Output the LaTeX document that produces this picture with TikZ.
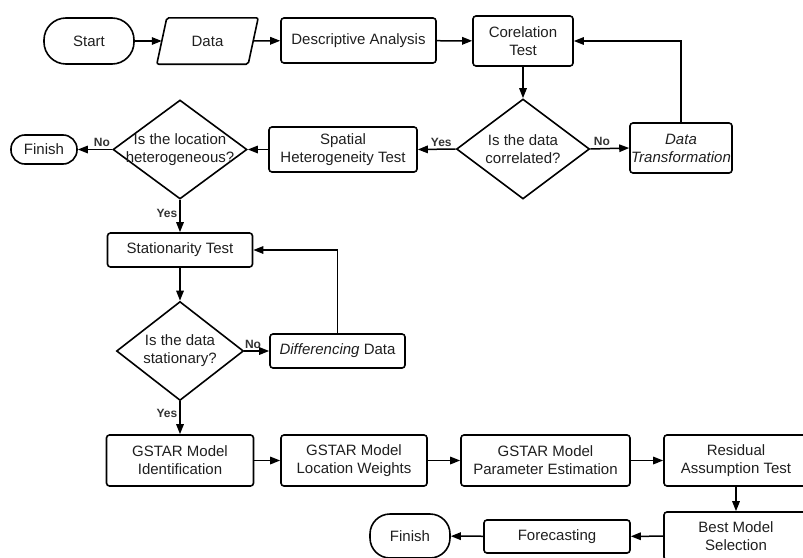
\documentclass[tikz,border=0pt]{standalone}
\usepackage{fontspec}
\setmainfont{Liberation Sans}
\usetikzlibrary{arrows.meta,shapes.geometric,calc}
\begin{document}
\begin{tikzpicture}[x=1pt,y=-1pt,
  txt/.style={inner sep=0pt, align=center, font=\fontsize{15}{18}\selectfont, text=black!88},
  box/.style={txt, draw, line width=1.6pt, rounded corners=3pt},
  term/.style={box, rounded corners=#1},
  dia/.style={diamond, draw, line width=1.6pt, inner sep=0pt},
  conn/.style={line width=1.5pt, -{Triangle[length=10pt,width=7.5pt]}},
  lab/.style={font=\bfseries\fontsize{12}{14}\selectfont, text=black!80, inner sep=2pt},
  sz/.style 2 args={minimum width=#1pt, minimum height=#2pt}]
\clip (0,0) rectangle (803,557);
\useasboundingbox (0,0) rectangle (803,557);
% row 1
\node[term=22pt, sz={90}{46}] (start) at (89,41) {Start};
\node[txt, sz={91}{46}] (data) at (207.5,41) {Data};
\draw[line width=1.6pt, rounded corners=2pt]
  ($(data.south west)+(-5,0)$) -- ($(data.north west)+(5,0)$) --
  ($(data.north east)+(5,0)$) -- ($(data.south east)+(-5,0)$) -- cycle;
\node[box, sz={155}{45}] (desc) at (358.5,40.5) {Descriptive Analysis};
\node[box, sz={100}{50}] (corr) at (523,41) {Corelation\\Test};
% row 2
\node[dia, sz={133}{100}] (d1) at (523,149) {};
\node[txt] (d1t) at (d1) {Is the data\\correlated?};
\node[box, sz={102}{50}] (trans) at (681,148) {\itshape Data\\\itshape Transformation};
\node[box, sz={148}{45}] (spat) at (343,149.5) {Spatial\\Heterogeneity Test};
\node[dia, sz={134}{99}] (d2) at (180,149.5) {};
\node[txt] (d2t) at (d2) {Is the location\\heterogeneous?};
\node[term=14pt, sz={66}{29}] (fin1) at (44,149.5) {Finish};
% column
\node[box, sz={145}{34}] (stat) at (180,250) {Stationarity Test};
\node[dia, sz={127}{99}] (d3) at (180,351) {};
\node[txt] (d3t) at (d3) {Is the data\\stationary?};
\node[box, sz={135}{34}] (diff) at (337.5,351) {\textit{Differencing} Data};
% bottom rows
\node[box, sz={147}{51}] (ident) at (180,460.5) {GSTAR Model\\Identification};
\node[box, sz={146}{51}] (wts) at (354,460.5) {GSTAR Model\\Location Weights};
\node[box, sz={169}{51}] (param) at (545.5,460.5) {GSTAR Model\\Parameter Estimation};
\node[box, sz={144}{51}] (resid) at (736,460.5) {Residual\\Assumption Test};
\node[box, sz={144}{48}] (best) at (736,536) {Best Model\\Selection};
\node[box, sz={146}{33}] (fore) at (557,536.5) {Forecasting};
\node[term=20pt, sz={80}{44}] (fin2) at (410,536) {Finish};
% connectors
\draw[conn] (start) -- (data);
\draw[conn] (data) -- (desc);
\draw[conn] (desc) -- (corr);
\draw[conn] (corr) -- (d1);
\draw[conn] (d1.east) -- node[lab, above, pos=0.3] (no1) {No} (trans.west);
\draw[conn] (trans.north) |- (corr.east);
\draw[conn] (d1.west) -- node[lab, above, pos=0.38] (yes1) {Yes} (spat.east);
\draw[conn] (spat.west) -- (d2.east);
\draw[conn] (d2.west) -- node[lab, above, pos=0.3] (no2) {No} (fin1.east);
\draw[conn] (d2.south) -- node[lab, left, pos=0.42] (yes2) {Yes} (stat.north);
\draw[conn] (stat.south) -- (d3.north);
\draw[conn] (d3.east) -- node[lab, above, pos=0.35] (no3) {No} (diff.west);
\draw[conn] (diff.north) |- (stat.east);
\draw[conn] (d3.south) -- node[lab, left, pos=0.37] (yes3) {Yes} (ident.north);
\draw[conn] (ident) -- (wts);
\draw[conn] (wts) -- (param);
\draw[conn] (param) -- (resid);
\draw[conn] (resid) -- (best);
\draw[conn] (best) -- (fore);
\draw[conn] (fore) -- (fin2);
\end{tikzpicture}
\end{document}
